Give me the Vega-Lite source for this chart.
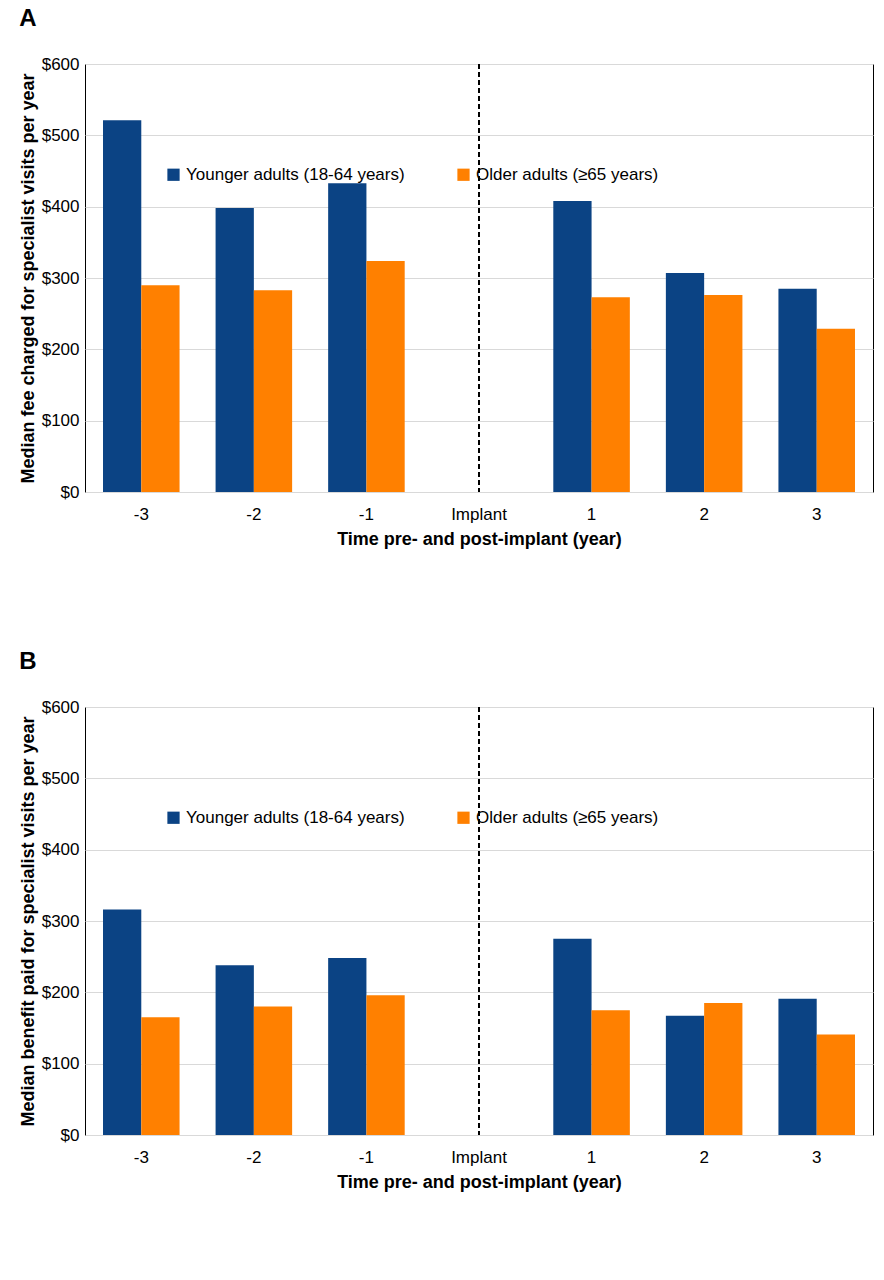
{
  "$schema": "https://vega.github.io/schema/vega-lite/v6.json",
  "padding": {"left": 18, "top": 6, "right": 10, "bottom": 0},
  "config": {
    "font": "Liberation Sans",
    "view": {"stroke": "black", "strokeWidth": 1},
    "axis": {"labelFontSize": 17, "titleFontSize": 18, "titleFontWeight": "bold", "labelColor": "black", "titleColor": "black"},
    "legend": {"labelFontSize": 17, "labelColor": "black", "labelLimit": 0},
    "title": {"fontSize": 24, "fontWeight": "bold", "anchor": "start", "frame": "bounds", "offset": 24}
  },
  "datasets": {
    "a": [
      {"time": "-3", "group": "Younger adults (18-64 years)", "value": 521},
      {"time": "-3", "group": "Older adults (≥65 years)", "value": 290},
      {"time": "-2", "group": "Younger adults (18-64 years)", "value": 398},
      {"time": "-2", "group": "Older adults (≥65 years)", "value": 283},
      {"time": "-1", "group": "Younger adults (18-64 years)", "value": 433},
      {"time": "-1", "group": "Older adults (≥65 years)", "value": 324},
      {"time": "1", "group": "Younger adults (18-64 years)", "value": 408},
      {"time": "1", "group": "Older adults (≥65 years)", "value": 273},
      {"time": "2", "group": "Younger adults (18-64 years)", "value": 307},
      {"time": "2", "group": "Older adults (≥65 years)", "value": 276},
      {"time": "3", "group": "Younger adults (18-64 years)", "value": 285},
      {"time": "3", "group": "Older adults (≥65 years)", "value": 229}
    ],
    "b": [
      {"time": "-3", "group": "Younger adults (18-64 years)", "value": 316},
      {"time": "-3", "group": "Older adults (≥65 years)", "value": 165},
      {"time": "-2", "group": "Younger adults (18-64 years)", "value": 238},
      {"time": "-2", "group": "Older adults (≥65 years)", "value": 180},
      {"time": "-1", "group": "Younger adults (18-64 years)", "value": 248},
      {"time": "-1", "group": "Older adults (≥65 years)", "value": 196},
      {"time": "1", "group": "Younger adults (18-64 years)", "value": 275},
      {"time": "1", "group": "Older adults (≥65 years)", "value": 175},
      {"time": "2", "group": "Younger adults (18-64 years)", "value": 167},
      {"time": "2", "group": "Older adults (≥65 years)", "value": 185},
      {"time": "3", "group": "Younger adults (18-64 years)", "value": 191},
      {"time": "3", "group": "Older adults (≥65 years)", "value": 141}
    ]
  },
  "vconcat": [
    {
      "title": "A",
      "width": 788,
      "height": 428,
      "data": {"name": "a"},
      "layer": [
        {
          "mark": {"type": "bar"},
          "encoding": {
            "x": {"field": "time", "type": "ordinal", "scale": {"domain": ["-3", "-2", "-1", "Implant", "1", "2", "3"], "paddingInner": 0.32, "paddingOuter": 0.16}, "axis": {"labelAngle": 0, "ticks": false, "domain": false, "title": "Time pre- and post-implant (year)", "labelPadding": 14, "titlePadding": 8}},
            "xOffset": {"field": "group", "sort": ["Younger adults (18-64 years)", "Older adults (≥65 years)"]},
            "y": {"field": "value", "type": "quantitative", "scale": {"domain": [0, 600]}, "axis": {"format": "$,d", "tickCount": 6, "ticks": false, "domain": false, "gridColor": "#d9d9d9", "title": "Median fee charged for specialist visits per year", "labelPadding": 6}},
            "color": {"field": "group", "type": "nominal", "sort": ["Younger adults (18-64 years)", "Older adults (≥65 years)"], "scale": {"range": ["#0b4384", "#ff8000"]}, "legend": {"orient": "none", "legendX": 80, "legendY": 102, "direction": "horizontal", "title": null, "symbolType": "square", "symbolSize": 150, "columnPadding": 50}}
          }
        },
        {
          "mark": {"type": "rule", "strokeDash": [5, 3], "color": "black", "strokeWidth": 1.5},
          "encoding": {"x": {"datum": "Implant", "type": "ordinal"}}
        }
      ]
    },
    {
      "title": "B",
      "width": 788,
      "height": 428,
      "data": {"name": "b"},
      "layer": [
        {
          "mark": {"type": "bar"},
          "encoding": {
            "x": {"field": "time", "type": "ordinal", "scale": {"domain": ["-3", "-2", "-1", "Implant", "1", "2", "3"], "paddingInner": 0.32, "paddingOuter": 0.16}, "axis": {"labelAngle": 0, "ticks": false, "domain": false, "title": "Time pre- and post-implant (year)", "labelPadding": 14, "titlePadding": 8}},
            "xOffset": {"field": "group", "sort": ["Younger adults (18-64 years)", "Older adults (≥65 years)"]},
            "y": {"field": "value", "type": "quantitative", "scale": {"domain": [0, 600]}, "axis": {"format": "$,d", "tickCount": 6, "ticks": false, "domain": false, "gridColor": "#d9d9d9", "title": "Median benefit paid for specialist visits per year", "labelPadding": 6}},
            "color": {"field": "group", "type": "nominal", "sort": ["Younger adults (18-64 years)", "Older adults (≥65 years)"], "scale": {"range": ["#0b4384", "#ff8000"]}, "legend": {"orient": "none", "legendX": 80, "legendY": 102, "direction": "horizontal", "title": null, "symbolType": "square", "symbolSize": 150, "columnPadding": 50}}
          }
        },
        {
          "mark": {"type": "rule", "strokeDash": [5, 3], "color": "black", "strokeWidth": 1.5},
          "encoding": {"x": {"datum": "Implant", "type": "ordinal"}}
        }
      ]
    }
  ],
  "resolve": {"scale": {"color": "independent"}},
  "spacing": 100
}
